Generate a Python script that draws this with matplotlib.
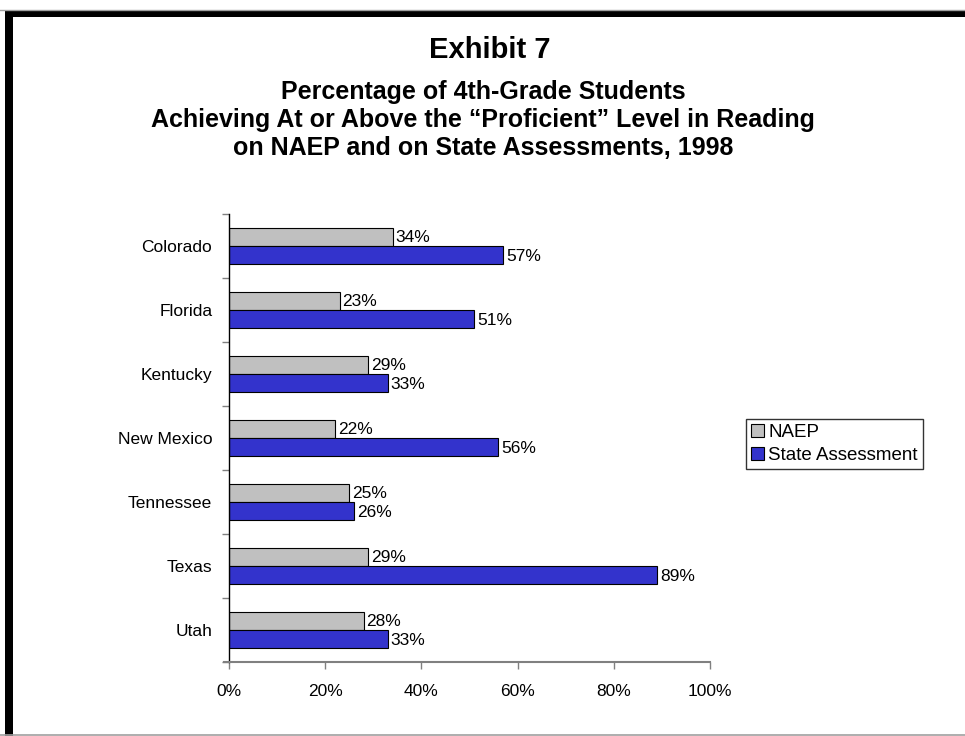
import matplotlib.pyplot as plt
import matplotlib.patches as mpatches
import matplotlib.lines as mlines
import numpy as np

plt.rcParams['font.family'] = ['Liberation Sans', 'DejaVu Sans']

# data read from the exhibit
states = ["Colorado", "Florida", "Kentucky", "New Mexico", "Tennessee", "Texas", "Utah"]
naep = [34, 23, 29, 22, 25, 29, 28]
state_assess = [57, 51, 33, 56, 26, 89, 33]
xticks = [0, 20, 40, 60, 80, 100]

gray = "#C0C0C0"
blue = "#3333CC"
fs = 12.5

fig = plt.figure(figsize=(9.65, 7.36), dpi=100)

# page frame: thick black top/left, thin gray lines
fig.add_artist(mlines.Line2D([0, 1], [1 - 9.5 / 736] * 2, color="#a0a0a0", lw=1))
fig.add_artist(mpatches.Rectangle((5 / 965, 1 - 17 / 736), 1, 7 / 736, color="black", lw=0))
fig.add_artist(mpatches.Rectangle((5 / 965, 0), 8 / 965, 1 - 10 / 736, color="black", lw=0))
fig.add_artist(mlines.Line2D([0, 1], [1.5 / 736] * 2, color="#a0a0a0", lw=1.2))

# titles
fig.text(490 / 965, 1 - 50 / 736, "Exhibit 7", ha="center", va="center", fontsize=21, fontweight="bold")
subtitle = ["Percentage of 4th-Grade Students",
            "Achieving At or Above the \u201cProficient\u201d Level in Reading",
            "on NAEP and on State Assessments, 1998"]
for i, line in enumerate(subtitle):
    fig.text(483 / 965, 1 - (92 + 28 * i) / 736, line, ha="center", va="center", fontsize=18, fontweight="bold")

ax = fig.add_axes([229 / 965, 1 - 662 / 736, 481 / 965, 448 / 736])

y = np.arange(len(states))
h = 0.28
b1 = ax.barh(y - h / 2, naep, height=h, color=gray, edgecolor="black", linewidth=0.8, label="NAEP")
b2 = ax.barh(y + h / 2, state_assess, height=h, color=blue, edgecolor="black", linewidth=0.8, label="State Assessment")

for rect, v in zip(b1, naep):
    ax.text(v + 0.6, rect.get_y() + rect.get_height() / 2, f"{v}%", va="center", ha="left", fontsize=fs)
for rect, v in zip(b2, state_assess):
    ax.text(v + 0.6, rect.get_y() + rect.get_height() / 2 + 0.02, f"{v}%", va="center", ha="left", fontsize=fs)

ax.set_xlim(0, 100)
ax.set_ylim(len(states) - 0.5, -0.5)
ax.set_xticks(xticks)
ax.set_xticklabels([f"{t}%" for t in xticks], fontsize=fs)
ax.set_yticks(y)
ax.set_yticklabels(states, fontsize=fs)
ax.set_yticks(np.arange(-0.5, len(states), 1), minor=True)
ax.tick_params(axis="y", which="major", length=0, pad=12)
ax.tick_params(axis="y", which="minor", length=5, color="#808080", width=1)
ax.tick_params(axis="x", length=5, color="#808080", width=1, pad=11)

for s in ["top", "right"]:
    ax.spines[s].set_visible(False)
ax.spines["left"].set_color("black")
ax.spines["left"].set_linewidth(1)
ax.spines["bottom"].set_color("#808080")
ax.spines["bottom"].set_linewidth(1.5)
ax.spines["bottom"].set_bounds(-1.1, 100)

leg = fig.legend(handles=[b1, b2], loc="upper left", bbox_to_anchor=(746 / 965, 1 - 419 / 736),
                 fontsize=13.5, frameon=True, fancybox=False, handlelength=0.7, handleheight=0.7,
                 handletextpad=0.25, borderpad=0.25, labelspacing=0.35, borderaxespad=0)
leg.get_frame().set_edgecolor("black")
leg.get_frame().set_linewidth(1)

fig.savefig("out.png", dpi=100)
